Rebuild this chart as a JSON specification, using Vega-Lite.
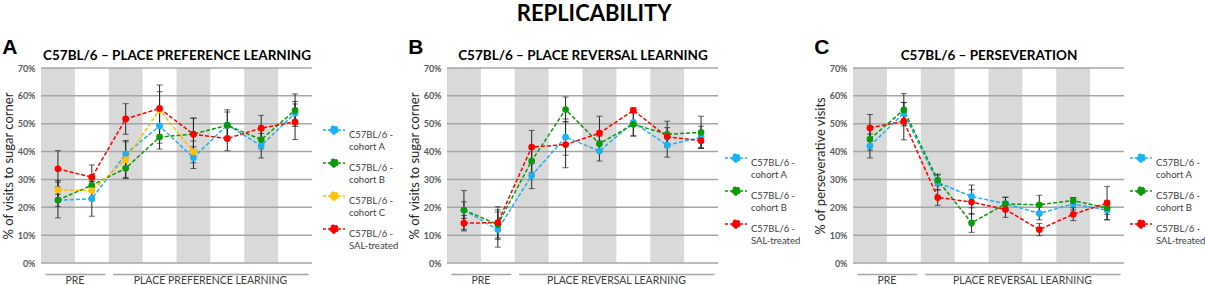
{
  "$schema": "https://vega.github.io/schema/vega-lite/v6.json",
  "padding": {"left": 2, "top": 3, "right": 0, "bottom": 0},
  "title": {"text": "REPLICABILITY", "font": "Lato", "fontSize": 22, "fontWeight": "bold", "color": "#000000", "anchor": "middle", "frame": "bounds", "offset": 11, "dx": -10},
  "datasets": {
    "a": [
      {"s": "C57BL/6 - cohort A", "x": 1, "m": 22.5, "lo": 20.3, "hi": 24.7},
      {"s": "C57BL/6 - cohort A", "x": 2, "m": 23.1, "lo": 16.8, "hi": 29.4},
      {"s": "C57BL/6 - cohort A", "x": 3, "m": 39.1, "lo": 34.2, "hi": 44.0},
      {"s": "C57BL/6 - cohort A", "x": 4, "m": 49.2, "lo": 43.0, "hi": 55.4},
      {"s": "C57BL/6 - cohort A", "x": 5, "m": 37.8, "lo": 33.9, "hi": 41.7},
      {"s": "C57BL/6 - cohort A", "x": 6, "m": 49.6, "lo": 45.0, "hi": 54.2},
      {"s": "C57BL/6 - cohort A", "x": 7, "m": 42.1, "lo": 37.7, "hi": 46.5},
      {"s": "C57BL/6 - cohort A", "x": 8, "m": 53.8, "lo": 49.6, "hi": 58.0},
      {"s": "C57BL/6 - cohort B", "x": 1, "m": 22.6, "lo": 16.2, "hi": 29.0},
      {"s": "C57BL/6 - cohort B", "x": 2, "m": 27.9, "lo": 25.6, "hi": 30.2},
      {"s": "C57BL/6 - cohort B", "x": 3, "m": 34.0, "lo": 30.3, "hi": 37.7},
      {"s": "C57BL/6 - cohort B", "x": 4, "m": 45.2, "lo": 40.9, "hi": 49.5},
      {"s": "C57BL/6 - cohort B", "x": 5, "m": 46.3, "lo": 40.5, "hi": 52.1},
      {"s": "C57BL/6 - cohort B", "x": 6, "m": 49.4, "lo": 44.0, "hi": 55.0},
      {"s": "C57BL/6 - cohort B", "x": 7, "m": 44.3, "lo": 41.0, "hi": 47.6},
      {"s": "C57BL/6 - cohort B", "x": 8, "m": 54.8, "lo": 49.0, "hi": 60.7},
      {"s": "C57BL/6 - cohort C", "x": 1, "m": 26.3, "lo": 23.0, "hi": 29.6},
      {"s": "C57BL/6 - cohort C", "x": 2, "m": 26.0, "lo": 22.8, "hi": 29.2},
      {"s": "C57BL/6 - cohort C", "x": 3, "m": 37.1, "lo": 30.7, "hi": 43.5},
      {"s": "C57BL/6 - cohort C", "x": 4, "m": 55.0, "lo": 46.1, "hi": 63.9},
      {"s": "C57BL/6 - cohort C", "x": 5, "m": 39.9, "lo": 36.0, "hi": 43.8},
      {"s": "C57BL/6 - SAL-treated", "x": 1, "m": 33.8, "lo": 27.3, "hi": 40.3},
      {"s": "C57BL/6 - SAL-treated", "x": 2, "m": 30.8, "lo": 26.4, "hi": 35.2},
      {"s": "C57BL/6 - SAL-treated", "x": 3, "m": 51.7, "lo": 46.2, "hi": 57.2},
      {"s": "C57BL/6 - SAL-treated", "x": 4, "m": 55.5, "lo": 49.5, "hi": 61.5},
      {"s": "C57BL/6 - SAL-treated", "x": 5, "m": 46.2, "lo": 40.5, "hi": 51.9},
      {"s": "C57BL/6 - SAL-treated", "x": 6, "m": 44.7, "lo": 40.3, "hi": 49.1},
      {"s": "C57BL/6 - SAL-treated", "x": 7, "m": 48.4, "lo": 43.8, "hi": 53.0},
      {"s": "C57BL/6 - SAL-treated", "x": 8, "m": 50.7, "lo": 44.3, "hi": 57.1}
    ],
    "b": [
      {"s": "C57BL/6 - cohort A", "x": 1, "m": 19.0, "lo": 16.0, "hi": 22.0},
      {"s": "C57BL/6 - cohort A", "x": 2, "m": 12.0, "lo": 5.7, "hi": 18.3},
      {"s": "C57BL/6 - cohort A", "x": 3, "m": 31.4, "lo": 26.7, "hi": 36.1},
      {"s": "C57BL/6 - cohort A", "x": 4, "m": 45.2, "lo": 38.7, "hi": 51.7},
      {"s": "C57BL/6 - cohort A", "x": 5, "m": 40.2, "lo": 36.6, "hi": 43.8},
      {"s": "C57BL/6 - cohort A", "x": 6, "m": 50.5, "lo": 45.6, "hi": 55.4},
      {"s": "C57BL/6 - cohort A", "x": 7, "m": 42.3, "lo": 38.0, "hi": 46.6},
      {"s": "C57BL/6 - cohort A", "x": 8, "m": 45.1, "lo": 41.1, "hi": 49.1},
      {"s": "C57BL/6 - cohort B", "x": 1, "m": 19.0, "lo": 12.0, "hi": 26.0},
      {"s": "C57BL/6 - cohort B", "x": 2, "m": 13.8, "lo": 8.5, "hi": 19.1},
      {"s": "C57BL/6 - cohort B", "x": 3, "m": 36.7, "lo": 32.4, "hi": 41.0},
      {"s": "C57BL/6 - cohort B", "x": 4, "m": 55.1, "lo": 50.6, "hi": 59.6},
      {"s": "C57BL/6 - cohort B", "x": 5, "m": 42.8, "lo": 40.0, "hi": 45.6},
      {"s": "C57BL/6 - cohort B", "x": 6, "m": 49.8, "lo": 45.6, "hi": 54.0},
      {"s": "C57BL/6 - cohort B", "x": 7, "m": 46.2, "lo": 41.5, "hi": 50.9},
      {"s": "C57BL/6 - cohort B", "x": 8, "m": 46.9, "lo": 41.1, "hi": 52.7},
      {"s": "C57BL/6 - SAL-treated", "x": 1, "m": 14.3, "lo": 11.5, "hi": 17.1},
      {"s": "C57BL/6 - SAL-treated", "x": 2, "m": 14.5, "lo": 9.0, "hi": 20.2},
      {"s": "C57BL/6 - SAL-treated", "x": 3, "m": 41.6, "lo": 35.6, "hi": 47.6},
      {"s": "C57BL/6 - SAL-treated", "x": 4, "m": 42.5, "lo": 34.2, "hi": 50.8},
      {"s": "C57BL/6 - SAL-treated", "x": 5, "m": 46.6, "lo": 40.5, "hi": 52.7},
      {"s": "C57BL/6 - SAL-treated", "x": 6, "m": 54.8, "lo": 53.9, "hi": 55.7},
      {"s": "C57BL/6 - SAL-treated", "x": 7, "m": 45.3, "lo": 42.0, "hi": 48.6},
      {"s": "C57BL/6 - SAL-treated", "x": 8, "m": 43.9, "lo": 41.5, "hi": 46.3}
    ],
    "c": [
      {"s": "C57BL/6 - cohort A", "x": 1, "m": 42.0, "lo": 37.7, "hi": 46.3},
      {"s": "C57BL/6 - cohort A", "x": 2, "m": 53.8, "lo": 50.0, "hi": 57.6},
      {"s": "C57BL/6 - cohort A", "x": 3, "m": 28.9, "lo": 26.2, "hi": 31.6},
      {"s": "C57BL/6 - cohort A", "x": 4, "m": 23.9, "lo": 19.8, "hi": 28.0},
      {"s": "C57BL/6 - cohort A", "x": 5, "m": 21.3, "lo": 19.0, "hi": 23.6},
      {"s": "C57BL/6 - cohort A", "x": 6, "m": 17.8, "lo": 15.5, "hi": 20.1},
      {"s": "C57BL/6 - cohort A", "x": 7, "m": 21.2, "lo": 19.0, "hi": 23.4},
      {"s": "C57BL/6 - cohort A", "x": 8, "m": 19.0, "lo": 15.5, "hi": 22.5},
      {"s": "C57BL/6 - cohort B", "x": 1, "m": 44.5, "lo": 40.5, "hi": 48.5},
      {"s": "C57BL/6 - cohort B", "x": 2, "m": 55.0, "lo": 49.2, "hi": 60.8},
      {"s": "C57BL/6 - cohort B", "x": 3, "m": 29.8, "lo": 27.7, "hi": 31.9},
      {"s": "C57BL/6 - cohort B", "x": 4, "m": 14.4, "lo": 11.0, "hi": 17.8},
      {"s": "C57BL/6 - cohort B", "x": 5, "m": 21.2, "lo": 18.8, "hi": 23.6},
      {"s": "C57BL/6 - cohort B", "x": 6, "m": 20.9, "lo": 17.5, "hi": 24.3},
      {"s": "C57BL/6 - cohort B", "x": 7, "m": 22.4, "lo": 21.3, "hi": 23.5},
      {"s": "C57BL/6 - cohort B", "x": 8, "m": 19.8, "lo": 17.5, "hi": 22.1},
      {"s": "C57BL/6 - SAL-treated", "x": 1, "m": 48.5, "lo": 43.7, "hi": 53.3},
      {"s": "C57BL/6 - SAL-treated", "x": 2, "m": 50.9, "lo": 44.2, "hi": 57.6},
      {"s": "C57BL/6 - SAL-treated", "x": 3, "m": 23.5, "lo": 20.7, "hi": 26.3},
      {"s": "C57BL/6 - SAL-treated", "x": 4, "m": 21.9, "lo": 17.5, "hi": 26.3},
      {"s": "C57BL/6 - SAL-treated", "x": 5, "m": 19.2, "lo": 16.4, "hi": 22.0},
      {"s": "C57BL/6 - SAL-treated", "x": 6, "m": 12.0, "lo": 9.8, "hi": 14.2},
      {"s": "C57BL/6 - SAL-treated", "x": 7, "m": 17.5, "lo": 15.2, "hi": 19.8},
      {"s": "C57BL/6 - SAL-treated", "x": 8, "m": 21.5, "lo": 15.5, "hi": 27.5}
    ],
    "bands": [{"x": 1}, {"x": 3}, {"x": 5}, {"x": 7}],
    "grid": [{"v": 0}, {"v": 10}, {"v": 20}, {"v": 30}, {"v": 40}, {"v": 50}, {"v": 60}, {"v": 70}],
    "groups": [{"start": 1, "end": 2}, {"start": 3, "end": 8}]
  },
  "hconcat": [
    {
      "width": 271, "height": 195,
      "title": {"text": "A"},
      "layer": [
        {
          "data": {"name": "bands"},
          "mark": {"type": "rect", "fill": "#d9d9d9"},
          "encoding": {
            "x": {"field": "x", "type": "ordinal", "scale": {"type": "band", "domain": [1, 2, 3, 4, 5, 6, 7, 8], "paddingInner": 0, "paddingOuter": 0},
                  "axis": {"orient": "bottom", "values": [1, 5], "labelExpr": "datum.value == 1 ? 'PRE' : 'PLACE PREFERENCE LEARNING'", "title": null}}
          }
        },
        {
          "data": {"name": "grid"},
          "mark": {"type": "rule", "color": "#a6a6a6", "strokeWidth": 1.5},
          "encoding": {"y": {"field": "v", "type": "quantitative", "scale": {"domain": [0, 70], "nice": false},
            "axis": {"values": [0, 10, 20, 30, 40, 50, 60, 70], "labelExpr": "datum.value + '%'", "title": "% of visits to sugar corner"}}}
        },
        {
          "data": {"name": "groups"},
          "mark": {"type": "rule", "color": "#a6a6a6", "strokeWidth": 1.5, "xOffset": -12.5, "x2Offset": 13.5},
          "encoding": {"x": {"field": "start", "type": "ordinal", "axis": {"orient": "top", "title": "C57BL/6 – PLACE PREFERENCE LEARNING", "labels": false, "ticks": false, "domain": false}}, "x2": {"field": "end"}, "y": {"datum": -4.1}}
        },
        {
          "data": {"name": "a"},
          "layer": [
            {"mark": {"type": "rule", "color": "#262626", "strokeWidth": 1}, "encoding": {"x": {"field": "x", "type": "ordinal", "axis": null}, "y": {"field": "lo", "type": "quantitative"}, "y2": {"field": "hi"}}},
            {"mark": {"type": "tick", "orient": "horizontal", "color": "#262626", "size": 6, "thickness": 1}, "encoding": {"x": {"field": "x", "type": "ordinal", "axis": null}, "y": {"field": "lo", "type": "quantitative"}}},
            {"mark": {"type": "tick", "orient": "horizontal", "color": "#262626", "size": 6, "thickness": 1}, "encoding": {"x": {"field": "x", "type": "ordinal", "axis": null}, "y": {"field": "hi", "type": "quantitative"}}},
            {"mark": {"type": "line", "strokeDash": [4, 2], "strokeWidth": 1.5}, "encoding": {"x": {"field": "x", "type": "ordinal", "axis": null}, "y": {"field": "m", "type": "quantitative"},
              "stroke": {"field": "s", "type": "nominal", "scale": {"domain": ["C57BL/6 - cohort A", "C57BL/6 - cohort B", "C57BL/6 - cohort C", "C57BL/6 - SAL-treated"], "range": ["#1cb1f0", "#0a9a0a", "#ffc000", "#ff0000"]},
                "legend": {"orient": "none", "legendX": 281, "legendY": 50, "rowPadding": -2, "labelExpr": "[slice(datum.label, 0, 9), slice(datum.label, 10)]"}}}},
            {"mark": {"type": "point", "filled": true, "size": 45, "opacity": 1}, "encoding": {"x": {"field": "x", "type": "ordinal", "axis": null}, "y": {"field": "m", "type": "quantitative"},
              "fill": {"field": "s", "type": "nominal", "scale": {"domain": ["C57BL/6 - cohort A", "C57BL/6 - cohort B", "C57BL/6 - cohort C", "C57BL/6 - SAL-treated"], "range": ["#1cb1f0", "#0a9a0a", "#ffc000", "#ff0000"]},
                "legend": {"orient": "none", "legendX": 281, "legendY": 50, "rowPadding": -2, "labelExpr": "[slice(datum.label, 0, 9), slice(datum.label, 10)]"}}}}
          ]
        }
      ],
      "resolve": {"axis": {"x": "independent"}}
    },
    {
      "width": 271, "height": 195,
      "title": {"text": "B"},
      "layer": [
        {
          "data": {"name": "bands"},
          "mark": {"type": "rect", "fill": "#d9d9d9"},
          "encoding": {
            "x": {"field": "x", "type": "ordinal", "scale": {"type": "band", "domain": [1, 2, 3, 4, 5, 6, 7, 8], "paddingInner": 0, "paddingOuter": 0},
                  "axis": {"orient": "bottom", "values": [1, 5], "labelExpr": "datum.value == 1 ? 'PRE' : 'PLACE REVERSAL LEARNING'", "title": null}}
          }
        },
        {
          "data": {"name": "grid"},
          "mark": {"type": "rule", "color": "#a6a6a6", "strokeWidth": 1.5},
          "encoding": {"y": {"field": "v", "type": "quantitative", "scale": {"domain": [0, 70], "nice": false},
            "axis": {"values": [0, 10, 20, 30, 40, 50, 60, 70], "labelExpr": "datum.value + '%'", "title": "% of visits to sugar corner"}}}
        },
        {
          "data": {"name": "groups"},
          "mark": {"type": "rule", "color": "#a6a6a6", "strokeWidth": 1.5, "xOffset": -12.5, "x2Offset": 13.5},
          "encoding": {"x": {"field": "start", "type": "ordinal", "axis": {"orient": "top", "title": "C57BL/6 – PLACE REVERSAL LEARNING", "labels": false, "ticks": false, "domain": false}}, "x2": {"field": "end"}, "y": {"datum": -4.1}}
        },
        {
          "data": {"name": "b"},
          "layer": [
            {"mark": {"type": "rule", "color": "#262626", "strokeWidth": 1}, "encoding": {"x": {"field": "x", "type": "ordinal", "axis": null}, "y": {"field": "lo", "type": "quantitative"}, "y2": {"field": "hi"}}},
            {"mark": {"type": "tick", "orient": "horizontal", "color": "#262626", "size": 6, "thickness": 1}, "encoding": {"x": {"field": "x", "type": "ordinal", "axis": null}, "y": {"field": "lo", "type": "quantitative"}}},
            {"mark": {"type": "tick", "orient": "horizontal", "color": "#262626", "size": 6, "thickness": 1}, "encoding": {"x": {"field": "x", "type": "ordinal", "axis": null}, "y": {"field": "hi", "type": "quantitative"}}},
            {"mark": {"type": "line", "strokeDash": [4, 2], "strokeWidth": 1.5}, "encoding": {"x": {"field": "x", "type": "ordinal", "axis": null}, "y": {"field": "m", "type": "quantitative"},
              "stroke": {"field": "s", "type": "nominal", "scale": {"domain": ["C57BL/6 - cohort A", "C57BL/6 - cohort B", "C57BL/6 - SAL-treated"], "range": ["#1cb1f0", "#0a9a0a", "#ff0000"]},
                "legend": {"orient": "none", "legendX": 277, "legendY": 78, "rowPadding": -4, "labelExpr": "[slice(datum.label, 0, 9), slice(datum.label, 10)]"}}}},
            {"mark": {"type": "point", "filled": true, "size": 45, "opacity": 1}, "encoding": {"x": {"field": "x", "type": "ordinal", "axis": null}, "y": {"field": "m", "type": "quantitative"},
              "fill": {"field": "s", "type": "nominal", "scale": {"domain": ["C57BL/6 - cohort A", "C57BL/6 - cohort B", "C57BL/6 - SAL-treated"], "range": ["#1cb1f0", "#0a9a0a", "#ff0000"]},
                "legend": {"orient": "none", "legendX": 277, "legendY": 78, "rowPadding": -4, "labelExpr": "[slice(datum.label, 0, 9), slice(datum.label, 10)]"}}}}
          ]
        }
      ],
      "resolve": {"axis": {"x": "independent"}}
    },
    {
      "width": 271, "height": 195,
      "title": {"text": "C"},
      "layer": [
        {
          "data": {"name": "bands"},
          "mark": {"type": "rect", "fill": "#d9d9d9"},
          "encoding": {
            "x": {"field": "x", "type": "ordinal", "scale": {"type": "band", "domain": [1, 2, 3, 4, 5, 6, 7, 8], "paddingInner": 0, "paddingOuter": 0},
                  "axis": {"orient": "bottom", "values": [1, 5], "labelExpr": "datum.value == 1 ? 'PRE' : 'PLACE REVERSAL LEARNING'", "title": null}}
          }
        },
        {
          "data": {"name": "grid"},
          "mark": {"type": "rule", "color": "#a6a6a6", "strokeWidth": 1.5},
          "encoding": {"y": {"field": "v", "type": "quantitative", "scale": {"domain": [0, 70], "nice": false},
            "axis": {"values": [0, 10, 20, 30, 40, 50, 60, 70], "labelExpr": "datum.value + '%'", "title": "% of perseverative  visits"}}}
        },
        {
          "data": {"name": "groups"},
          "mark": {"type": "rule", "color": "#a6a6a6", "strokeWidth": 1.5, "xOffset": -12.5, "x2Offset": 13.5},
          "encoding": {"x": {"field": "start", "type": "ordinal", "axis": {"orient": "top", "title": "C57BL/6 – PERSEVERATION", "labels": false, "ticks": false, "domain": false}}, "x2": {"field": "end"}, "y": {"datum": -4.1}}
        },
        {
          "data": {"name": "c"},
          "layer": [
            {"mark": {"type": "rule", "color": "#262626", "strokeWidth": 1}, "encoding": {"x": {"field": "x", "type": "ordinal", "axis": null}, "y": {"field": "lo", "type": "quantitative"}, "y2": {"field": "hi"}}},
            {"mark": {"type": "tick", "orient": "horizontal", "color": "#262626", "size": 6, "thickness": 1}, "encoding": {"x": {"field": "x", "type": "ordinal", "axis": null}, "y": {"field": "lo", "type": "quantitative"}}},
            {"mark": {"type": "tick", "orient": "horizontal", "color": "#262626", "size": 6, "thickness": 1}, "encoding": {"x": {"field": "x", "type": "ordinal", "axis": null}, "y": {"field": "hi", "type": "quantitative"}}},
            {"mark": {"type": "line", "strokeDash": [4, 2], "strokeWidth": 1.5}, "encoding": {"x": {"field": "x", "type": "ordinal", "axis": null}, "y": {"field": "m", "type": "quantitative"},
              "stroke": {"field": "s", "type": "nominal", "scale": {"domain": ["C57BL/6 - cohort A", "C57BL/6 - cohort B", "C57BL/6 - SAL-treated"], "range": ["#1cb1f0", "#0a9a0a", "#ff0000"]},
                "legend": {"orient": "none", "legendX": 276, "legendY": 78, "rowPadding": -4, "labelExpr": "[slice(datum.label, 0, 9), slice(datum.label, 10)]"}}}},
            {"mark": {"type": "point", "filled": true, "size": 45, "opacity": 1}, "encoding": {"x": {"field": "x", "type": "ordinal", "axis": null}, "y": {"field": "m", "type": "quantitative"},
              "fill": {"field": "s", "type": "nominal", "scale": {"domain": ["C57BL/6 - cohort A", "C57BL/6 - cohort B", "C57BL/6 - SAL-treated"], "range": ["#1cb1f0", "#0a9a0a", "#ff0000"]},
                "legend": {"orient": "none", "legendX": 276, "legendY": 78, "rowPadding": -4, "labelExpr": "[slice(datum.label, 0, 9), slice(datum.label, 10)]"}}}}
          ]
        }
      ],
      "resolve": {"axis": {"x": "independent"}}
    }
  ],
  "spacing": 135,
  "bounds": "flush",
  "resolve": {"scale": {"stroke": "independent", "fill": "independent", "x": "independent", "y": "independent"}, "legend": {"stroke": "independent", "fill": "independent"}},
  "config": {
    "view": {"stroke": null},
    "title": {"font": "Liberation Sans", "fontSize": 21, "fontWeight": "bold", "color": "#000000", "anchor": "start", "frame": "bounds", "offset": -10},
    "axisX": {"domain": false, "ticks": false, "grid": false, "labelFont": "Lato", "labelFontSize": 10.5, "labelColor": "#404040", "labelPadding": 12, "labelAngle": 0, "labelAlign": "center", "labelOffset": 17,
      "titleFont": "Lato", "titleFontSize": 13.5, "titleFontWeight": "bold", "titleColor": "#000000", "titlePadding": 6},
    "axisY": {"domain": false, "ticks": false, "grid": false, "tickCount": 8, "labelFont": "Lato", "labelFontSize": 9, "labelFontWeight": "bold", "labelColor": "#595959", "labelPadding": 6,
      "titleFont": "Lato", "titleFontSize": 13, "titleFontWeight": "normal", "titleColor": "#262626", "titlePadding": 2},
    "legend": {"title": null, "symbolType": "M-1,0L-0.36,0M0.36,0L1,0M0.36,0A0.36,0.36 0 1,1 -0.36,0A0.36,0.36 0 1,1 0.36,0Z", "symbolSize": 484, "symbolStrokeWidth": 1.5, "symbolDash": [3, 2],
      "labelFont": "Lato", "labelFontSize": 9.5, "labelColor": "#404040", "labelOffset": 3, "labelBaseline": "top"}
  }
}
